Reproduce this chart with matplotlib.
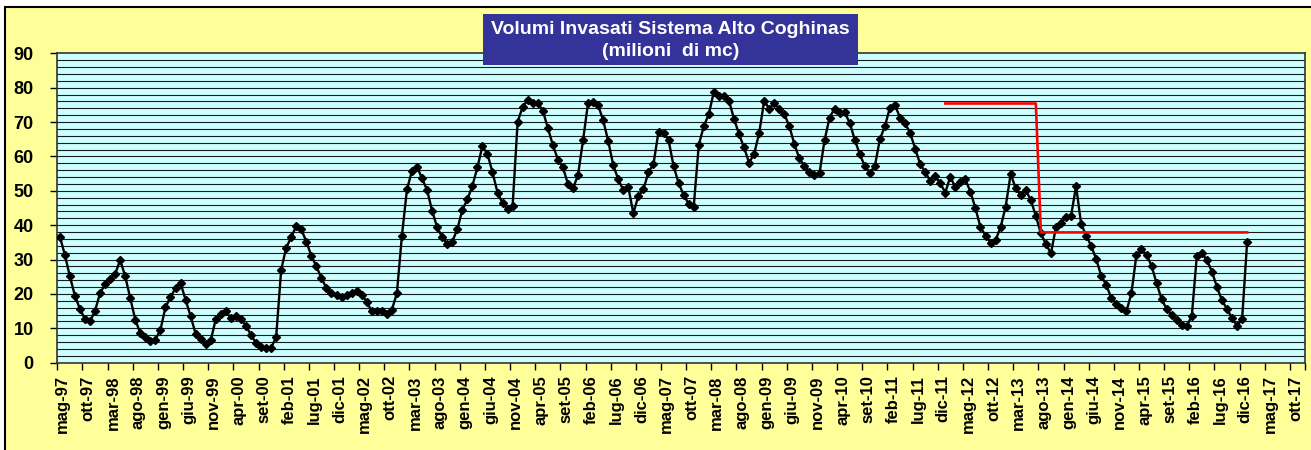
import numpy as np
import matplotlib
matplotlib.use("Agg")
import matplotlib.pyplot as plt
from matplotlib.patches import Rectangle

plt.rcParams['font.family'] = ['Liberation Sans', 'DejaVu Sans']

# monthly stored volume (milioni di mc), from mag-97 onwards
volumi = [36.7, 31.4, 25.1, 19.5, 15.6, 12.7, 12.0, 15.1, 20.2, 22.8,
          24.3, 25.8, 29.9, 25.1, 18.8, 12.5, 8.6, 7.5, 6.2, 6.7,
          9.6, 16.1, 19.1, 21.7, 23.1, 18.3, 13.5, 8.4, 6.9, 5.5,
          6.5, 12.7, 14.2, 14.9, 13.0, 13.5, 12.7, 10.7, 8.1, 5.7,
          4.7, 4.3, 4.3, 7.5, 27.0, 33.5, 36.5, 39.8, 38.8, 35.2,
          31.1, 28.0, 24.6, 21.7, 20.2, 19.7, 19.1, 19.7, 20.2, 21.0,
          19.7, 17.8, 14.9, 14.9, 14.9, 14.2, 15.4, 20.2, 37.0, 50.4,
          55.8, 57.0, 53.6, 50.2, 44.2, 39.4, 36.5, 34.5, 35.2, 38.8,
          44.4, 47.5, 51.4, 56.8, 63.0, 60.7, 55.4, 49.5, 46.4, 44.6,
          45.6, 70.1, 74.4, 76.4, 75.6, 75.6, 73.3, 68.3, 63.3, 59.1,
          56.8, 52.0, 50.7, 54.6, 64.7, 75.6, 75.9, 74.9, 70.5, 64.5,
          57.5, 53.3, 50.2, 51.0, 43.5, 48.5, 50.4, 55.4, 57.8, 67.2,
          66.9, 64.7, 57.2, 52.2, 48.8, 46.2, 45.4, 63.3, 68.8, 72.3,
          78.8, 77.5, 77.5, 76.2, 71.0, 66.5, 62.6, 58.2, 60.7, 66.7,
          76.2, 73.9, 75.4, 73.9, 72.3, 68.8, 63.6, 59.4, 57.2, 55.5,
          54.6, 55.1, 64.7, 71.3, 73.9, 72.7, 72.8, 69.8, 64.9, 60.7,
          57.2, 55.3, 57.2, 65.0, 68.8, 74.2, 74.9, 71.3, 69.6, 66.9,
          62.3, 57.8, 55.5, 52.9, 54.3, 52.2, 49.5, 54.1, 51.0, 52.6,
          53.3, 49.7, 44.9, 39.4, 37.0, 34.9, 35.7, 39.4, 45.4, 54.9,
          50.7, 48.8, 50.2, 47.3, 42.7, 37.6, 34.5, 31.8, 39.4, 40.5,
          42.5, 42.7, 51.4, 40.4, 37.0, 34.0, 30.1, 25.3, 22.6, 18.8,
          17.1, 15.9, 14.9, 20.2, 31.4, 33.0, 31.4, 28.2, 23.1, 18.5,
          15.6, 13.9, 12.3, 11.0, 10.7, 13.6, 31.1, 31.8, 29.9, 26.5,
          22.0, 18.1, 15.6, 13.0, 10.7, 12.7, 35.2]

# red reference line (step)
soglia_start = 176
soglia_step = 195
soglia_end = 236
soglia_alta = 75.4
soglia_bassa = 37.9

tick_labels = ['mag-97', 'ott-97', 'mar-98', 'ago-98', 'gen-99', 'giu-99', 'nov-99',
               'apr-00', 'set-00', 'feb-01', 'lug-01', 'dic-01', 'mag-02', 'ott-02',
               'mar-03', 'ago-03', 'gen-04', 'giu-04', 'nov-04', 'apr-05', 'set-05',
               'feb-06', 'lug-06', 'dic-06', 'mag-07', 'ott-07', 'mar-08', 'ago-08',
               'gen-09', 'giu-09', 'nov-09', 'apr-10', 'set-10', 'feb-11', 'lug-11',
               'dic-11', 'mag-12', 'ott-12', 'mar-13', 'ago-13', 'gen-14', 'giu-14',
               'nov-14', 'apr-15', 'set-15', 'feb-16', 'lug-16', 'dic-16', 'mag-17',
               'ott-17']
n_categorie = 248

fig = plt.figure(figsize=(13.11, 4.5), dpi=100)
fig.patch.set_facecolor('white')

# yellow chart area with black frame
fig.patches.append(Rectangle((5 / 1311, -0.1), 1.1, 1.1 - 7 / 450, transform=fig.transFigure,
                             facecolor='#FFFF99', edgecolor='black', linewidth=1.5, zorder=-5))

ax = fig.add_axes([57.3 / 1311, 1 - 362.7 / 450, (1305 - 57.3) / 1311, (362.7 - 53.3) / 450])
ax.set_facecolor('#CCFFFF')

x = np.arange(len(volumi))
ax.plot(x, volumi, color='black', linewidth=1.7, marker='D', markersize=4.5, zorder=3)

xs = np.arange(soglia_start, soglia_end + 1)
ys = np.where(xs < soglia_step, soglia_alta, soglia_bassa)
ax.plot(xs, ys, color='#FF0000', linewidth=1.9, zorder=4)

ax.set_xlim(-0.5, n_categorie - 0.5)
ax.set_ylim(0, 90)

# horizontal grid every 2
for g in np.arange(2, 90, 2):
    ax.axhline(g, color='#1a1a1a', linewidth=0.8, zorder=1)

ax.set_yticks(np.arange(0, 91, 10))
ax.set_yticklabels([str(v) for v in range(0, 91, 10)], fontsize=13, fontweight='bold')
ax.tick_params(axis='y', length=5, width=1, pad=12)

# tick marks at category boundaries, labels centred under categories
pos = np.arange(0, 5 * len(tick_labels), 5)
ax.set_xticks(np.append(pos - 0.5, n_categorie - 0.5))
ax.set_xticklabels([])
ax.tick_params(axis='x', which='major', length=5, width=1)
ax.set_xticks(pos + 0.6, minor=True)
ax.set_xticklabels(tick_labels, minor=True, rotation=90, fontsize=12, fontweight='bold')
ax.tick_params(axis='x', which='minor', length=0, pad=9)

for s in ax.spines.values():
    s.set_color('#333333')
    s.set_linewidth(1.2)

# title box
fig.patches.append(Rectangle((483.3 / 1311, 1 - 65 / 450), (857.7 - 483.3) / 1311, 51 / 450,
                             transform=fig.transFigure, facecolor='#333399', edgecolor='none', zorder=10))
fig.text(670.5 / 1311, 1 - 29 / 450, 'Volumi Invasati Sistema Alto Coghinas', color='white',
         fontsize=14, fontweight='bold', ha='center', va='center', zorder=11)
fig.text(670.5 / 1311, 1 - 51 / 450, '(milioni  di mc)', color='white',
         fontsize=14, fontweight='bold', ha='center', va='center', zorder=11)

fig.savefig('out.png', dpi=100)
